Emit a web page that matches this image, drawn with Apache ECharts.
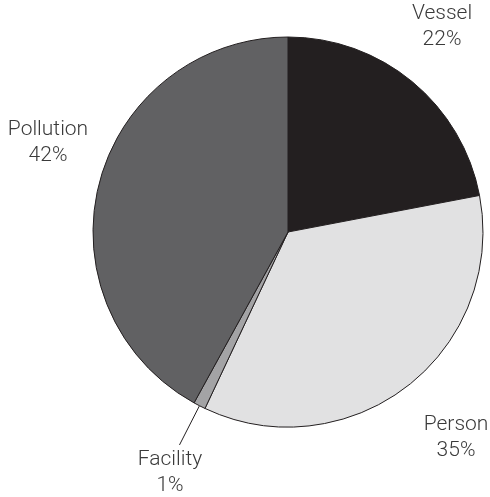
<!DOCTYPE html>
<html><head><meta charset="utf-8">
<script src="https://cdn.jsdelivr.net/npm/echarts@6/dist/echarts.min.js"></script>
<style>html,body{margin:0;padding:0;background:#fff}#c{width:490px;height:497px}</style>
</head><body><div id="c"></div>
<script>
var categories = ['Vessel', 'Person', 'Facility', 'Pollution'];
var values = [22, 35, 1, 42];
var colors = ['#231f20', '#e1e1e2', '#a3a3a5', '#616163'];

// label anchor (centre of the two-line text block) for each slice
var labelAnchors = [[442, 27], [456, 438], [170, 473], [48, 143]];

var chart = echarts.init(document.getElementById('c'), null, {renderer: 'canvas'});
var data = categories.map(function (c, i) {
  var item = {name: c, value: values[i], itemStyle: {color: colors[i]}};
  if (c === 'Facility') {
    item.labelLine = {show: true};
  }
  return item;
});
chart.setOption({
  animation: false,
  series: [{
    type: 'pie',
    center: [288, 232],
    radius: 195,
    startAngle: 90,
    clockwise: true,
    data: data,
    itemStyle: {borderColor: '#231f20', borderWidth: 1},
    label: {
      show: true,
      position: 'outside',
      overflow: 'none',
      formatter: function (p) { return p.name + '\n' + p.value + '%'; },
      fontFamily: 'Roboto, "Liberation Sans", sans-serif',
      fontWeight: 300,
      fontSize: 21,
      lineHeight: 26,
      color: '#3a3a3a',
      align: 'center'
    },
    labelLayout: function (p) {
      var a = labelAnchors[p.dataIndex];
      var out = {x: a[0], y: a[1], align: 'center', verticalAlign: 'middle'};
      if (p.labelLinePoints) { out.labelLinePoints = p.labelLinePoints; }
      return out;
    },
    labelLine: {show: false, length: 44, length2: 0, lineStyle: {color: '#231f20', width: 1}},
    emphasis: {disabled: true}
  }]
});
</script></body></html>
